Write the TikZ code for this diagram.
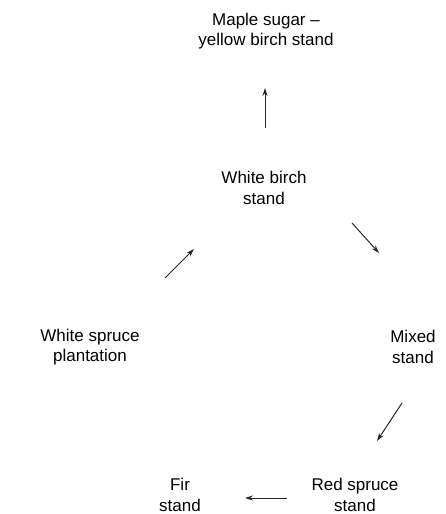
\documentclass[tikz,border=0pt]{standalone}
\usepackage{fontspec}
\setmainfont{Liberation Sans}
\usetikzlibrary{arrows.meta}
\begin{document}
\begin{tikzpicture}[x=1pt,y=1pt,
  lbl/.style={align=center,font=\fontsize{17}{20.5}\selectfont,inner sep=0pt},
  arr/.style={-{Stealth[length=8pt,width=5pt]},line width=1pt,black!85}]
\useasboundingbox (0,0) rectangle (445,-514);
\node[lbl] (maple) at (266,-31) {Maple sugar --\\yellow birch stand};
\node[lbl] (birch) at (264,-188) {White birch\\stand};
\node[lbl] (spruce) at (90,-347) {White spruce\\plantation};
\node[lbl] (mixed) at (413,-347) {Mixed\\stand};
\node[lbl] (fir) at (180,-495) {Fir\\stand};
\node[lbl] (red) at (355,-495) {Red spruce\\stand};
\coordinate (a1) at (265,-128); \coordinate (a2) at (265,-88);
\coordinate (b1) at (165,-278); \coordinate (b2) at (194,-249);
\coordinate (c1) at (352,-223); \coordinate (c2) at (379,-253);
\coordinate (d1) at (402,-403); \coordinate (d2) at (377,-441);
\coordinate (e1) at (287,-498); \coordinate (e2) at (245,-498);
\draw[arr] (a1) -- (a2);
\draw[arr] (b1) -- (b2);
\draw[arr] (c1) -- (c2);
\draw[arr] (d1) -- (d2);
\draw[arr] (e1) -- (e2);
\end{tikzpicture}
\end{document}
